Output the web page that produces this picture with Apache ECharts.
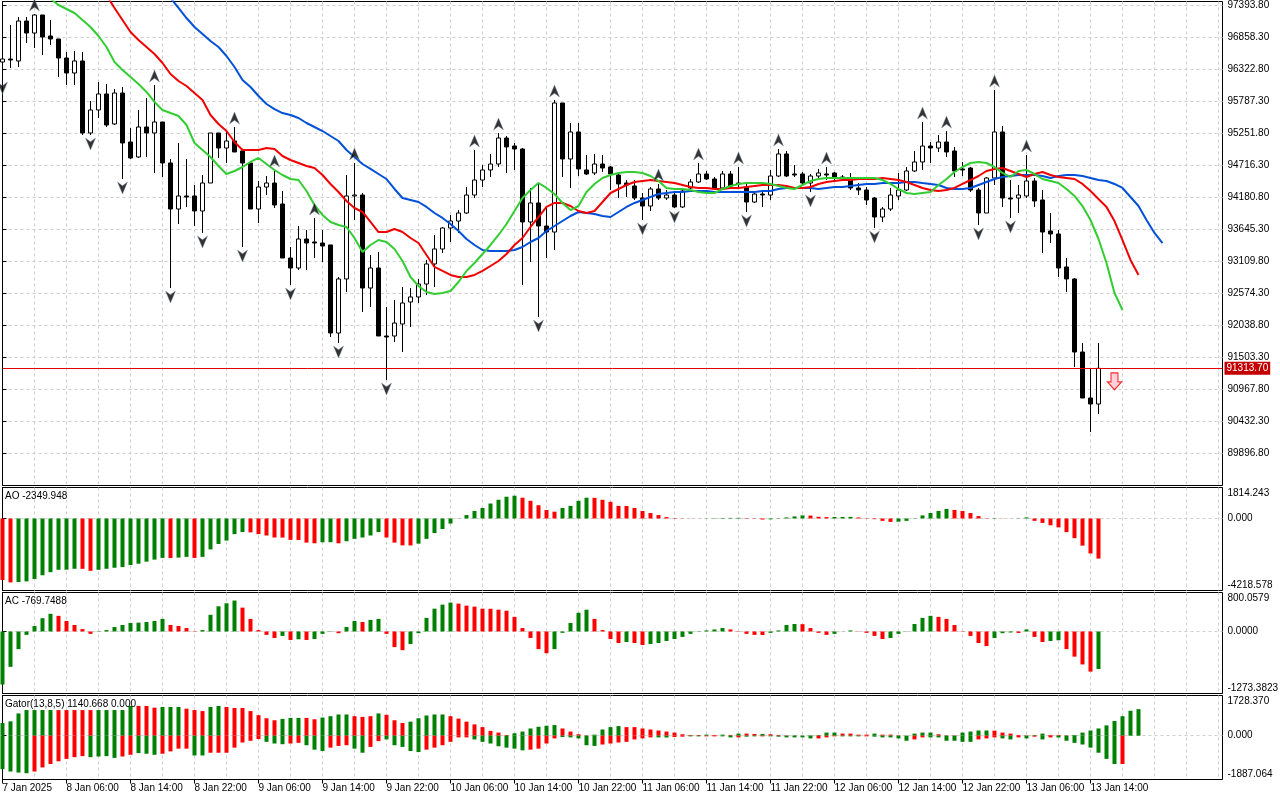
<!DOCTYPE html>
<html><head><meta charset="utf-8">
<script src="https://cdn.jsdelivr.net/npm/echarts@6.0.0/dist/echarts.min.js"></script>
<style>html,body{margin:0;padding:0;background:#fff}#c{width:1280px;height:800px}</style>
</head><body><div id="c"></div>
<script>
// ---------- axis labels ----------
const TICK_LABELS = ["7 Jan 2025","8 Jan 06:00","8 Jan 14:00","8 Jan 22:00","9 Jan 06:00","9 Jan 14:00","9 Jan 22:00","10 Jan 06:00","10 Jan 14:00","10 Jan 22:00","11 Jan 06:00","11 Jan 14:00","11 Jan 22:00","12 Jan 06:00","12 Jan 14:00","12 Jan 22:00","13 Jan 06:00","13 Jan 14:00"];
const PRICE_TICKS = [89896.8,90432.3,90967.8,91503.3,92038.8,92574.3,93109.8,93645.3,94180.8,94716.3,95251.8,95787.3,96322.8,96858.3,97393.8];
const PRICE_MIN = 89353.1, PRICE_MAX = 97452.4;
const AO_RANGE = [-4218.578, 1814.243];
const AC_RANGE = [-1273.3823, 800.0579];
const GATOR_RANGE = [-1887.064, 1728.370];
const AO_TITLE = "AO -2349.948";
const AC_TITLE = "AC -769.7488";
const GATOR_TITLE = "Gator(13,8,5) 1140.668 0.000";
const LAST_PRICE = 91313.70;

// ---------- candles (hourly, bar 0 = 7 Jan 22:00) ----------
const OPEN = [
96440,96490,96457,97126,96925,97227,96875,96825,96507,96256,
96457,95252,95637,95905,95403,95921,95101,94850,95352,95252,
95436,94750,93980,94198,94198,93947,94415,95252,95001,95118,
94951,94750,93980,94348,94415,94064,93160,92993,93478,93428,
93411,93378,91905,92809,94198,94214,92658,92993,91855,91855,
92056,92424,92508,92725,93060,93311,93662,93779,93913,94214,
94465,94633,94733,95168,95034,94984,93763,94081,93696,93595,
95754,94817,95269,94633,94583,94733,94683,94549,94415,94365,
94164,94030,94315,94164,94214,94014,94332,94432,94566,94482,
94332,94566,94415,94348,94097,94231,94214,94532,94901,94566,
94566,94415,94532,94566,94583,94516,94499,94332,94298,94164,
93846,93980,94198,94298,94616,94767,95034,95001,95101,94951,
94650,94666,94298,93913,94499,95269,94164,94164,94198,94449,
94131,93612,93562,93010,92809,91587,90817,90717];
const CLOSE = [
96490,96474,97126,96925,97227,96858,96825,96507,96256,96457,
95252,95637,95905,95386,95921,95085,94834,95352,95252,95436,
94750,93980,94198,94181,93947,94415,95252,95001,95118,94934,
94750,93980,94348,94415,94047,93160,92993,93478,93411,93411,
93361,91905,92809,94198,94214,92658,92993,91855,91838,92072,
92407,92508,92725,93060,93311,93662,93779,93913,94214,94465,
94633,94733,95168,95018,94984,93763,94081,93696,93595,95754,
94817,95269,94650,94566,94733,94666,94566,94399,94382,94164,
94030,94315,94164,94214,94014,94281,94432,94566,94482,94332,
94566,94365,94399,94097,94231,94214,94532,94901,94532,94549,
94415,94532,94583,94549,94516,94499,94332,94298,94131,93846,
93980,94214,94298,94616,94767,95034,95001,95101,94934,94616,
94633,94298,93913,94499,95269,94164,94147,94214,94449,94114,
93595,93562,92993,92809,91587,90817,90717,91313.7];
const HIGH = [
96524,97059,97193,97193,97243,97227,97143,96825,96607,96624,
96607,95787,96105,96072,95988,96022,95336,95637,95838,96055,
95436,94817,95085,94817,94382,94549,95252,95252,95302,95352,
94951,94750,94449,94532,94633,94281,93344,93696,93629,93830,
93629,93378,92842,94549,94750,94248,93210,93261,92340,92457,
92675,92658,92809,93127,93545,93679,93880,93963,94348,94967,
94716,94901,95252,95202,95085,95001,94332,94415,93997,95804,
95754,95419,95419,94884,94901,94884,94700,94599,94465,94465,
94248,94348,94399,94298,94248,94332,94482,94750,94616,94516,
94616,94616,94683,94415,94248,94298,94633,94984,94951,94716,
94599,94566,94650,94683,94599,94549,94583,94415,94348,94181,
94014,94332,94583,94683,94951,95436,95101,95218,95285,95018,
94767,94683,94332,94516,95971,95369,94465,94382,94884,94499,
94298,93913,93629,93160,92825,91738,91319,91738];
const LOW = [
96156,96340,96356,96758,96674,96557,96724,96189,96055,96055,
95218,95218,95503,95352,95386,94482,94817,94834,94850,94583,
94516,92658,93729,94014,93696,93579,94415,94834,94750,94934,
93344,93980,93746,94214,93997,93160,92708,92959,92959,93160,
93093,91838,91738,92591,93796,92257,92340,91855,91119,91754,
91587,92006,92407,92541,92675,93244,93428,93579,93897,94164,
94348,94516,94683,94583,94633,92708,93093,92173,93160,93294,
94516,94332,94532,94549,94549,94599,94298,94164,94181,94131,
93796,93947,94131,94131,93997,93997,94265,94415,94465,94298,
94298,94348,94348,93930,94081,94014,94131,94516,94516,94516,
94382,94265,94465,94465,94432,94449,94298,94214,94047,93662,
93763,93947,94131,94281,94599,94633,94750,94934,94850,94516,
94532,94265,93712,93913,94382,94014,93830,93913,94164,94014,
93244,93411,92842,92591,91336,90817,90248,90550];

// ---------- Alligator (shifted lines) ----------
const LIPS_START = 6;
const LIPS = [
97500,97394,97327,97260,
97143,97026,96875,96691,96440,96306,96189,96072,95938,95771,
95637,95586,95536,95386,95085,94967,94850,94700,94566,94616,
94683,94767,94834,94733,94633,94549,94482,94465,94281,94047,
93880,93763,93712,93679,93495,93261,93378,93461,93428,93311,
93110,92842,92692,92591,92558,92575,92608,92759,92943,93076,
93227,93378,93545,93729,93947,94164,94298,94415,94332,94231,
94081,93963,94030,94265,94399,94499,94549,94583,94599,94599,
94583,94532,94449,94332,94315,94315,94298,94265,94248,94248,
94315,94365,94399,94415,94415,94415,94399,94365,94332,94315,
94382,94449,94482,94499,94499,94499,94499,94499,94499,94499,
94465,94399,94315,94248,94231,94248,94265,94382,94482,94599,
94683,94750,94767,94750,94683,94583,94516,94616,94633,94566,
94482,94449,94415,94315,94198,94030,93796,93478,93076,92575,92290];
const TEETH_START = 13;
const TEETH = [
97561,97344,97143,96942,96808,96691,96574,
96423,96239,96122,96038,95921,95804,95553,95403,95285,95101,
94967,94967,94967,95001,94984,94867,94800,94750,94700,94666,
94549,94399,94265,94114,93997,93930,93763,93595,93595,93646,
93595,93495,93411,93210,93010,92943,92876,92842,92842,92876,
92943,93026,93110,93227,93378,93495,93679,93846,94014,94081,
94081,94030,93947,93913,93947,94097,94248,94315,94382,94432,
94449,94465,94449,94432,94415,94382,94348,94332,94332,94315,
94315,94332,94332,94348,94365,94382,94382,94382,94365,94332,
94332,94348,94399,94432,94449,94465,94465,94482,94482,94482,
94499,94482,94465,94432,94382,94332,94298,94281,94298,94332,
94399,94465,94532,94616,94650,94666,94616,94566,94516,94566,
94599,94549,94516,94499,94482,94399,94281,94147,94014,93779,93461,93127,92876];
const JAW_START = 21;
const JAW = [
97511,97344,97176,97026,96909,96791,96691,96540,96356,
96139,96022,95871,95737,95653,95586,95553,95503,95419,95352,
95285,95202,95118,94967,94850,94733,94650,94566,94482,94315,
94164,94131,94097,94014,93913,93830,93729,93612,93478,93378,
93294,93277,93277,93277,93294,93344,93428,93495,93612,93696,
93779,93863,93930,93913,93897,93863,93846,93930,94014,94081,
94131,94181,94231,94248,94265,94265,94281,94281,94281,94265,
94265,94265,94265,94265,94265,94281,94281,94315,94332,94332,
94332,94332,94315,94332,94348,94348,94365,94382,94399,94399,
94415,94415,94415,94432,94432,94415,94399,94382,94332,94315,
94315,94332,94382,94432,94482,94516,94532,94549,94549,94549,
94532,94499,94532,94549,94549,94532,94499,94465,94449,94399,
94332,94181,94030,93796,93579,93411];

// ---------- Fractals & signal ----------
const FRACTAL_UP = [4,19,29,34,39,44,59,62,69,82,87,92,97,103,115,118,124,128];
const FRACTAL_DOWN = [0,11,15,21,25,30,36,42,48,67,80,84,93,101,109,122,126];
const SELL_SIGNAL_BAR = 139;

// ---------- Awesome Oscillator ----------
const AO = [
-3604,-3743,-3723,-3683,-3544,-3325,-3146,-3006,-3000,-2947,
-2950,-3066,-3006,-2947,-2887,-2847,-2728,-2648,-2529,-2409,
-2310,-2315,-2290,-2250,-2310,-2250,-1812,-1493,-1294,-916,
-796,-816,-916,-996,-1115,-1120,-1254,-1260,-1414,-1453,
-1394,-1390,-1453,-1334,-1195,-1115,-996,-796,-1115,-1414,
-1573,-1580,-1473,-1195,-856,-617,-299,-10,199,438,
617,876,1095,1274,1334,1215,1035,776,498,398,
617,737,1035,1215,1210,1095,976,737,730,617,
438,319,199,80,25,12,8,4,10,20,
30,35,38,25,-20,-60,-50,20,60,120,
180,170,100,80,85,90,95,60,20,-40,
-140,-200,-190,-140,20,180,320,440,560,500,
440,320,140,20,25,10,5,15,60,-140,
-260,-400,-520,-800,-1155,-1593,-2051,-2349.948];
const AO_COLOR = "RRGGGGGGGG"+"RRGGGGGGGG"+"GRGGRGGGGG"+"GRRRRRRRRR"+"GGRGGGGGRR"+"RRGGGGGGGG"+"GGGGGRRRRR"+"GGGGRRRRRR"+"RRRRRRRRGG"+"GGGRRRGGGG"+"GRRRGGGRRR"+"RRGGGGGGGR"+"RRRRGRRGGR"+"RRRRRRRR";

// ---------- Accelerator Oscillator ----------
const AC = [
-1089,-726,-363,-70,112,272,363,321,216,133,
49,-49,-7,28,91,133,174,181,195,216,
258,133,112,70,-7,28,342,517,579,635,
489,258,28,-70,-133,-91,-174,-160,-174,-154,
-49,-7,-35,91,216,195,237,258,-49,-321,
-384,-258,-35,279,468,551,593,572,530,510,
468,466,447,426,300,70,-133,-363,-447,-363,
-28,174,384,447,258,28,-154,-237,-216,-237,
-279,-258,-237,-195,-154,-112,-49,-7,21,42,
70,42,-7,-49,-70,-72,-28,21,133,154,
150,70,-28,-70,-49,3,21,5,-28,-91,
-154,-133,-49,5,154,279,321,300,258,133,
-7,-91,-237,-300,-133,-35,-21,-30,42,-112,
-216,-195,-180,-363,-517,-677,-824,-769.7488];
const AC_COLOR = "GGGGGGGRRR"+"RRGGGGGGGG"+"GRRRRGGGGG"+"RRRRRGRGRG"+"GGRGGRGGRR"+"RGGGGGGRRR"+"RRRRRRRRRG"+"GGGGRRRRGR"+"RGGGGGGGGG"+"GRRRRRGGGG"+"RRRRGGGRRR"+"RGGGGGGRRR"+"RRRRGGGRGR"+"RGGRRRRG";

// ---------- Gator Oscillator ----------
const GATOR_UP = [
544,617,956,1103,1103,1103,1103,1100,1100,1100,
1100,1100,1103,1103,1103,1103,1279,1279,1279,1205,
1235,1235,1235,1161,1103,1058,1235,1279,1235,1191,
1191,1058,882,750,662,720,764,764,764,706,
779,838,911,911,838,808,838,956,897,662,
544,603,750,867,911,911,838,735,603,485,
368,206,132,30,103,176,309,382,426,456,
309,176,59,15,44,265,368,412,368,368,
309,265,221,176,132,59,30,30,44,30,
44,30,88,88,74,74,59,30,15,15,
5,15,30,132,132,88,88,44,44,88,
44,44,15,5,88,132,132,59,15,15,
132,176,221,221,215,132,88,30,15,30,
88,30,30,15,30,132,221,309,441,631,838,1071,1140.668];
const GATOR_UP_COLOR = "GGGGGGGRRR"+"RRGGGGGRRR"+"GGGRRRGGRR"+"RRRRRGGGRR"+"GGGGRRRGRR"+"RGGGGGRRRR"+"RRRRGGGGGG"+"RRRRGGGGRR"+"RRRRRRRRGR"+"GRGRRGRRRG"+"RGGGGRRRRG"+"RRRRGGGRRR"+"GGGGRRRRRG"+"GRRRGGGGGGGGG";
const GATOR_DOWN = [
-1441,-1544,-1588,-1617,-1544,-1367,-1220,-1103,-1000,-926,
-882,-926,-897,-882,-956,-897,-823,-750,-779,-823,
-779,-676,-559,-559,-853,-853,-735,-735,-735,-515,
-294,-221,-147,-265,-338,-368,-338,-309,-412,-603,
-662,-515,-441,-412,-559,-735,-485,-235,-162,-412,
-485,-662,-706,-603,-515,-412,-265,-74,-74,-162,
-265,-338,-456,-515,-559,-632,-603,-559,-338,-118,
-59,-74,-118,-412,-441,-382,-338,-294,-265,-162,
-118,-74,-74,-80,-59,-44,-30,-30,-30,-30,
-30,-74,-74,-44,-30,-30,-30,-44,-74,-74,
-74,-118,-118,-74,-30,-30,-30,-30,-30,-44,
-74,-74,-118,-220,-162,-74,-74,-74,-220,-220,
-265,-265,-162,-118,-74,-118,-162,-74,-118,-44,
-162,-74,-80,-220,-309,-382,-515,-735,-1000,-1220,-1220];
const GATOR_DOWN_COLOR = "GGGGRRRRRR"+"RGGGGRRGGG"+"RRRRGGRRRR"+"RRRGGGRRGG"+"GRRRGGRRGG"+"GGGRRRRRRG"+"GGGGGGRRRR"+"GGGGGRRRRR"+"RRGGRRGGRR"+"GGRGGRGGGG"+"GGRRRGGGRG"+"GGGGRRGGGG"+"GGRRRGGRGR"+"GRGGGGGGGGR";

// ---------- styling ----------
const FONT = 'Liberation Sans';
const FS = 10;
const GREEN = '#008000', RED = '#ff0000';
const GRID_LINE = {color:'#cfcfcf', type:[3,3], width:1};
const X_MAX = 152.5;
const TICK_BARS = TICK_LABELS.map((_, k) => k * 8);
const colorOf = c => c === 'G' ? GREEN : RED;

const gridBase = {left:2.5, width:1220, show:true, borderColor:'#000', borderWidth:1, outerBoundsMode:'none', containLabel:false};
const grids = [
  Object.assign({top:1.5, height:484}, gridBase),
  Object.assign({top:487.5, height:103}, gridBase),
  Object.assign({top:592.5, height:101}, gridBase),
  Object.assign({top:695.5, height:84}, gridBase)
];

const xAxes = [0,1,2,3].map(i => ({
  type:'value', gridIndex:i, min:0, max:X_MAX, interval:4,
  axisLine:{show:false}, axisTick:{show:false}, axisLabel:{show:false},
  splitLine:{show:true, showMinLine:false, showMaxLine:false, lineStyle:GRID_LINE}
}));
xAxes.push({
  type:'value', gridIndex:3, min:0, max:X_MAX, position:'bottom',
  axisLine:{show:false},
  axisTick:{show:true, customValues:TICK_BARS, length:4, lineStyle:{color:'#000'}},
  axisLabel:{show:true, customValues:TICK_BARS, formatter:v => TICK_LABELS[Math.round(v/8)] || '',
    align:'left', margin:4, fontFamily:FONT, fontSize:FS, color:'#000'},
  splitLine:{show:false}
});

function subY(idx, range, dec) {
  const lo = range[0], hi = range[1];
  const st = {fontFamily:FONT, fontSize:FS, color:'#000'};
  return {
    type:'value', gridIndex:idx, position:'right', min:lo, max:hi,
    axisLine:{show:true, lineStyle:{color:'#000'}},
    axisTick:{show:true, customValues:[lo,0,hi], length:4, lineStyle:{color:'#000'}},
    axisLabel:{customValues:[lo,0,hi], margin:5, fontFamily:FONT, fontSize:FS, color:'#000',
      formatter: v => {
        const s = v.toFixed(dec);
        if (Math.abs(v - hi) < 1e-6) return '{t|' + s + '}';
        if (Math.abs(v - lo) < 1e-6) return '{b|' + s + '}';
        return s;
      },
      rich:{t:Object.assign({padding:[11,0,0,0]}, st), b:Object.assign({padding:[0,0,11,0]}, st)}
    },
    splitLine:{show:true, showMinLine:false, showMaxLine:false, lineStyle:GRID_LINE}
  };
}

const yAxes = [
  {type:'value', gridIndex:0, position:'right', min:PRICE_MIN, max:PRICE_MAX,
   axisLine:{show:true, lineStyle:{color:'#000'}},
   axisTick:{show:true, customValues:PRICE_TICKS, length:4, lineStyle:{color:'#000'}},
   axisLabel:{customValues:PRICE_TICKS, formatter:v => v.toFixed(2), margin:5, fontFamily:FONT, fontSize:FS, color:'#000'},
   splitLine:{show:true, lineStyle:GRID_LINE}},
  subY(1, AO_RANGE, 3),
  subY(2, AC_RANGE, 4),
  subY(3, GATOR_RANGE, 3)
];

const UP_PATH = 'path://M5,0 L10,11 L5,7.5 L0,11 Z';
const DOWN_PATH = 'path://M0,0 L5,3.5 L10,0 L5,11 Z';
const SELL_PATH = 'path://M3,0 L9,0 L9,8 L12,8 L6,15 L0,8 L3,8 Z';

function lineSeries(arr, start, color) {
  return {type:'line', xAxisIndex:0, yAxisIndex:0, data:arr.map((v,k) => [start + k, v]),
    showSymbol:false, symbol:'none', lineStyle:{color:color, width:2}, z:4, silent:true, clip:true};
}
function histo(arr, cols, gi, extra) {
  return Object.assign({type:'bar', xAxisIndex:gi, yAxisIndex:gi, barWidth:4, silent:true,
    data:arr.map((v,i) => ({value:[i, v], itemStyle:{color:colorOf(cols[i])}}))}, extra || {});
}

const series = [
  {type:'candlestick', xAxisIndex:0, yAxisIndex:0, barWidth:5, z:3, silent:true,
   data:OPEN.map((o,i) => [i, o, CLOSE[i], LOW[i], HIGH[i]]),
   itemStyle:{color:'#fff', color0:'#000', borderColor:'#000', borderColor0:'#000', borderWidth:1},
   markLine:{symbol:'none', silent:true, animation:false,
     lineStyle:{color:'#e00000', width:1, type:'solid'},
     label:{show:true, position:'end', formatter:LAST_PRICE.toFixed(2), backgroundColor:'#c40000', color:'#fff',
       padding:[2,2,1,2], distance:2, fontFamily:FONT, fontSize:FS},
     data:[{yAxis:LAST_PRICE}]}},
  lineSeries(JAW, JAW_START, '#0050d8'),
  lineSeries(TEETH, TEETH_START, '#f00000'),
  lineSeries(LIPS, LIPS_START, '#32cd32'),
  {type:'scatter', xAxisIndex:0, yAxisIndex:0, data:FRACTAL_UP.map(i => [i, HIGH[i]]), symbol:UP_PATH,
   symbolSize:[10,12], symbolOffset:[0,-9], itemStyle:{color:'#000', borderColor:'#8090a8', borderWidth:0.5}, clip:false, z:5, silent:true},
  {type:'scatter', xAxisIndex:0, yAxisIndex:0, data:FRACTAL_DOWN.map(i => [i, LOW[i]]), symbol:DOWN_PATH,
   symbolSize:[10,12], symbolOffset:[0,9], itemStyle:{color:'#000', borderColor:'#8090a8', borderWidth:0.5}, clip:false, z:5, silent:true},
  {type:'scatter', xAxisIndex:0, yAxisIndex:0, data:[[SELL_SIGNAL_BAR, LAST_PRICE]], symbol:SELL_PATH,
   symbolSize:[14,17], symbolOffset:[0,13], itemStyle:{color:'#ffc4cf', borderColor:'#ff0000', borderWidth:1.2}, clip:false, z:6, silent:true},
  histo(AO, AO_COLOR, 1),
  histo(AC, AC_COLOR, 2),
  histo(GATOR_UP, GATOR_UP_COLOR, 3, {barGap:'-100%'}),
  histo(GATOR_DOWN, GATOR_DOWN_COLOR, 3, {barGap:'-100%'})
];

const titleStyle = {fontFamily:FONT, fontSize:FS, fontWeight:'normal', color:'#000'};
const option = {
  backgroundColor:'#fff',
  animation:false,
  title:[
    {text:AO_TITLE, left:5, top:491, padding:0, textStyle:titleStyle},
    {text:AC_TITLE, left:5, top:596, padding:0, textStyle:titleStyle},
    {text:GATOR_TITLE, left:5, top:699, padding:0, textStyle:titleStyle}
  ],
  grid:grids,
  xAxis:xAxes,
  yAxis:yAxes,
  series:series
};
const chart = echarts.init(document.getElementById('c'), null, {renderer:'canvas'});
chart.setOption(option);
</script></body></html>
